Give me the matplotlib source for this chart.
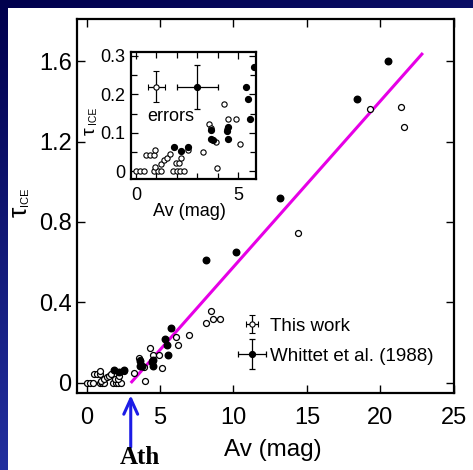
import numpy as np
import matplotlib
matplotlib.use("Agg")
import matplotlib.pyplot as plt
from matplotlib.patches import Rectangle
from matplotlib.legend_handler import HandlerErrorbar
from matplotlib.ticker import MultipleLocator, FixedLocator
import matplotlib.transforms as mtransforms

plt.rcParams['font.family'] = ['Liberation Sans', 'DejaVu Sans']

# ---- data -------------------------------------------------------------
# This work (open circles)
av_this = [0.0, 0.2, 0.4, 0.9, 1.05, 1.2, 1.8, 2.0, 2.15, 2.35,
           0.5, 0.7, 0.88, 0.92, 0.95,
           1.2, 1.35, 1.5, 1.65, 1.95, 2.1, 2.2, 2.55,
           3.25, 3.55, 3.65, 3.9, 3.95, 4.3, 4.45, 4.5, 4.9, 5.1,
           6.1, 6.2, 7.0, 8.1, 8.45, 8.6, 9.1, 14.4, 19.3, 21.4, 21.6]
tau_this = [0, 0, 0, 0, 0, 0, 0, 0, 0, 0,
            0.043, 0.043, 0.043, 0.057, 0.012,
            0.02, 0.03, 0.036, 0.045, 0.022, 0.022, 0.035, 0.057,
            0.05, 0.124, 0.114, 0.077, 0.01, 0.175, 0.11, 0.137, 0.137, 0.072,
            0.23, 0.19, 0.24, 0.30, 0.36, 0.32, 0.32, 0.745, 1.36, 1.37, 1.27]

# Whittet et al. (1988) (filled circles)
av_whittet = [1.85, 2.2, 2.55, 3.65, 3.65, 3.75, 4.45, 4.5, 4.5,
              5.35, 5.45, 5.55, 5.75, 8.1, 10.2, 13.2, 18.4, 20.5]
tau_whittet = [0.063, 0.053, 0.063, 0.107, 0.085, 0.082, 0.105, 0.115, 0.085,
               0.218, 0.187, 0.137, 0.272, 0.61, 0.65, 0.92, 1.41, 1.60]

# linear fit and threshold extinction
fit_av = [3.0, 22.9]
fit_tau = [0.0, 1.64]
a_th = 3.0

# typical uncertainties shown in the inset
err_av = [1.0, 3.0]
err_tau = [0.22, 0.22]
err_xerr = [0.4, 1.0]
err_yerr = [0.04, 0.057]

main_xticks = [0, 5, 10, 15, 20, 25]
main_yticks = [0, 0.4, 0.8, 1.2, 1.6]
main_yticklabels = ['0', '0.4', '0.8', '1.2', '1.6']
inset_xticks = [0, 5]
inset_yticks = [0, 0.1, 0.2, 0.3]
inset_yticklabels = ['0', '0.1', '0.2', '0.3']

W, H = 473, 470
fig = plt.figure(figsize=(W / 100, H / 100), dpi=100)

# ---- slide background: blue gradient with a white panel ---------------
bg = fig.add_axes([0, 0, 1, 1], zorder=-10)
bg.set_axis_off()
yy, xx = np.mgrid[0:1:200j, 0:1:200j]
top = np.array([0.0, 0.0, 0.30])
bottom = np.array([0.16, 0.22, 0.68])
t = np.clip(yy * 0.85 + xx * 0.25, 0, 1)[..., None]
grad = top * (1 - t) + bottom * t
bg.imshow(grad, extent=[0, 1, 0, 1], origin='upper', aspect='auto',
          interpolation='bilinear')
bg.add_patch(Rectangle((8 / W, 0), 1, 1 - 8 / H, color='white', lw=0))
bg.set_xlim(0, 1)
bg.set_ylim(0, 1)

# ---- main panel -------------------------------------------------------
ax = fig.add_axes([77.3 / W, 1 - 393 / H, (454 - 77.3) / W, (393 - 19) / H])
ax.set_xlim(-0.64, 25.02)
ax.set_ylim(-0.05, 1.809)

ax.plot(fit_av, fit_tau, color='#e600e6', lw=2.2, zorder=2,
        solid_capstyle='butt')
ax.plot(av_this, tau_this, 'o', ms=4.3, mfc='white', mec='black', mew=0.9,
        ls='none', zorder=3)
ax.plot(av_whittet, tau_whittet, 'o', ms=4.7, mfc='black', mec='black',
        ls='none', zorder=3)

ax.xaxis.set_major_locator(FixedLocator(main_xticks))
ax.yaxis.set_major_locator(FixedLocator(main_yticks))
ax.set_yticklabels(main_yticklabels)
ax.tick_params(direction='in', top=True, right=True, length=6, width=1.0,
               labelsize=17)
ax.tick_params(axis='x', pad=10)
ax.tick_params(axis='y', pad=4)
for s in ax.spines.values():
    s.set_linewidth(1.6)

ax.set_xlabel('Av (mag)', fontsize=17.5)
ax.xaxis.set_label_coords(0.52, -0.122)

# y label: large tau with small ICE subscript
fig.text(20 / W, 1 - 212 / H, '\u03c4', fontsize=19, rotation=90,
         ha='center', va='center')
fig.text(25 / W, 1 - 197 / H, 'ICE', fontsize=8, rotation=90,
         ha='center', va='center')

# threshold arrow and label
trans = mtransforms.blended_transform_factory(ax.transData, ax.transAxes)
ax.annotate('', xy=(a_th, -0.006), xycoords=trans,
            xytext=(a_th, -0.145), textcoords=trans,
            arrowprops=dict(arrowstyle='->,head_length=1.1,head_width=0.5',
                            color='#1c1ce6', lw=2.2, shrinkA=0, shrinkB=0),
            annotation_clip=False)
ax.text(a_th + 0.6, -0.202, 'Ath', transform=trans, fontsize=18,
        family=['Liberation Serif', 'DejaVu Serif'], fontweight='bold',
        ha='center', va='bottom', clip_on=False)

# ---- inset ------------------------------------------------------------
ins = fig.add_axes([131.3 / W, 1 - 179 / H, (256 - 131.3) / W, (179 - 52) / H])
ins.set_xlim(-0.23, 5.86)
ins.set_ylim(-0.0195, 0.31)
ins.plot(av_this, tau_this, 'o', ms=3.8, mfc='white', mec='black', mew=0.8,
         ls='none', zorder=3)
ins.plot(av_whittet, tau_whittet, 'o', ms=4.2, mfc='black', mec='black',
         ls='none', zorder=3)

eb_this = ins.errorbar(err_av[0], err_tau[0], xerr=err_xerr[0],
                       yerr=err_yerr[0], fmt='o', ms=3.8, mfc='white',
                       mec='black', mew=0.8, ecolor='black', elinewidth=0.9,
                       capsize=2, capthick=0.9)
eb_whittet = ins.errorbar(err_av[1], err_tau[1], xerr=err_xerr[1],
                          yerr=err_yerr[1], fmt='o', ms=4.2, mfc='black',
                          mec='black', ecolor='black', elinewidth=0.9,
                          capsize=2, capthick=0.9)
ins.text(1.72, 0.13, 'errors', fontsize=13, ha='center', va='baseline')

ins.xaxis.set_major_locator(FixedLocator(inset_xticks))
ins.xaxis.set_minor_locator(MultipleLocator(1))
ins.yaxis.set_major_locator(FixedLocator(inset_yticks))
ins.yaxis.set_minor_locator(MultipleLocator(0.05))
ins.set_yticklabels(inset_yticklabels)
ins.tick_params(which='both', direction='in', top=True, right=True,
                width=0.9, labelsize=13)
ins.tick_params(which='major', length=5)
ins.tick_params(which='minor', length=4)
ins.tick_params(axis='x', pad=6)
ins.tick_params(axis='y', pad=4)
for s in ins.spines.values():
    s.set_linewidth(1.6)
ins.set_xlabel('Av (mag)', fontsize=13)
ins.xaxis.set_label_coords(0.47, -0.19)

fig.text(90 / W, 1 - 131 / H, '\u03c4', fontsize=14, rotation=90,
         ha='center', va='center')
fig.text(93 / W, 1 - 115 / H, 'ICE', fontsize=7.5, rotation=90,
         ha='center', va='center')

# ---- legend -----------------------------------------------------------
ax.legend([eb_this, eb_whittet], ['This work', 'Whittet et al. (1988)'],
          handler_map={eb_this: HandlerErrorbar(xerr_size=0.32, yerr_size=0.48),
                       eb_whittet: HandlerErrorbar(xerr_size=0.75, yerr_size=0.8)},
          loc='upper left', bbox_to_anchor=(0.423, 0.201), frameon=False,
          fontsize=13.5, handlelength=1.6, handletextpad=0.2,
          labelspacing=0.68, borderpad=0, borderaxespad=0, numpoints=1)

fig.savefig('out.png', dpi=100)
